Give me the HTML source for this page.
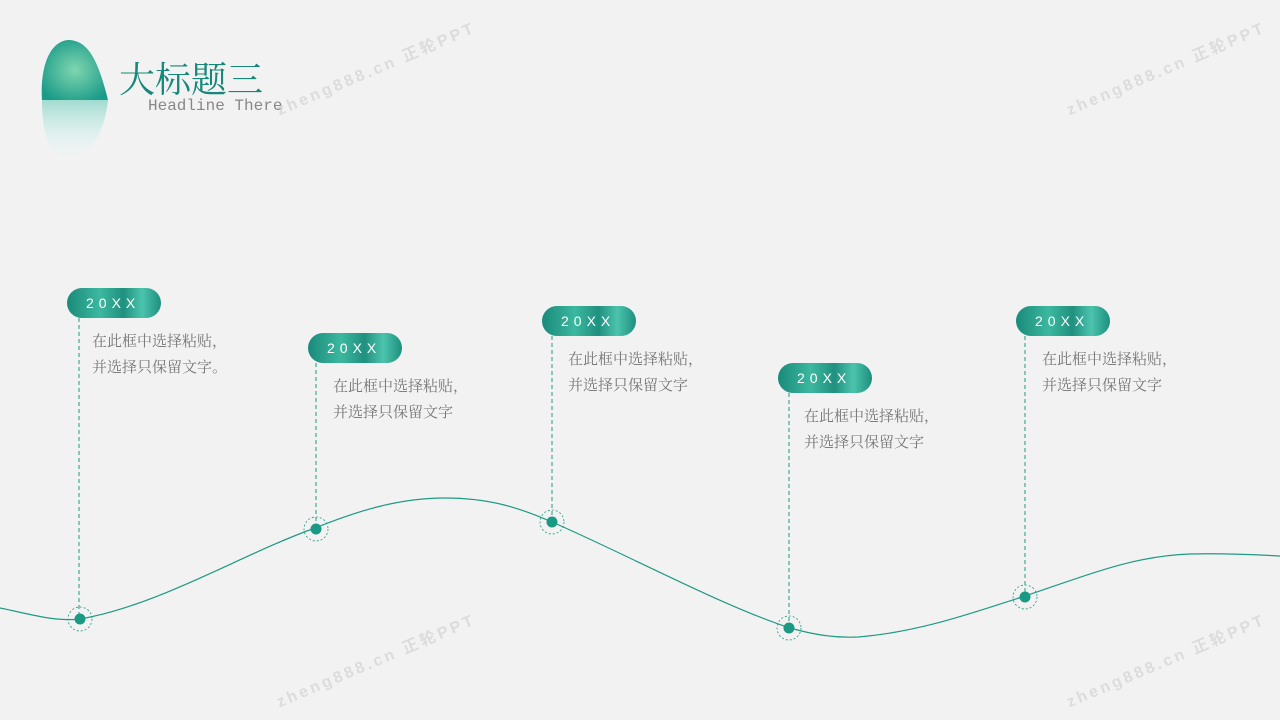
<!DOCTYPE html><html><head><meta charset="utf-8"><style>
body{margin:0;width:1280px;height:720px;background:#f2f2f2;position:relative;overflow:hidden;font-family:"Liberation Sans","Noto Sans CJK SC",sans-serif}
.pill{position:absolute;width:94px;height:30px;border-radius:15px;background:linear-gradient(90deg,#1a8a7a,#3cb8a0 35%,#20907f 60%,#4cc4ad 80%,#1d8f7e);color:#fff;font-size:14px;letter-spacing:5px;line-height:30px;text-indent:19px}
.t{position:absolute;color:#777;font-size:15px;line-height:26px;font-family:"Liberation Serif","Noto Serif CJK SC",serif}
.wm{position:absolute;color:#dcdcdc;font-size:16px;font-weight:bold;letter-spacing:3px;transform:rotate(-23deg);transform-origin:left top;white-space:nowrap}
</style></head><body>
<svg width="1280" height="720" style="position:absolute;left:0;top:0">
<defs><radialGradient id="r" cx=".5" cy=".5" r=".6"><stop offset="0" stop-color="#7fd6b0"/><stop offset="1" stop-color="#1a9a88"/></radialGradient>
<linearGradient id="f" x1="0" y1="0" x2="0" y2="1"><stop offset="0" stop-color="#7ed0c0" stop-opacity=".7"/><stop offset="1" stop-color="#dff" stop-opacity="0"/></linearGradient></defs>
<path d="M42,100 C40,70 48,42 68,40 C88,40 98,60 108,100 Z" fill="url(#r)"/>
<path d="M42,100 L108,100 C105,130 90,160 68,160 C48,158 42,130 42,100 Z" fill="url(#f)"/>
<path d="M0,608 C30,614 55,622 80,619 C160,605 240,555 315,528 C360,510 400,498 445,498 C490,498 520,508 552,522 C630,556 720,605 790,628 C815,635 835,638 858,637 C920,632 975,612 1025,596 C1080,578 1130,556 1190,554 C1230,553 1260,555 1280,556" fill="none" stroke="#1f9a85" stroke-width="1.2"/>
<g stroke="#1f9a85" stroke-width="1" stroke-dasharray="4,3" fill="none">
<line x1="79" y1="318" x2="79" y2="619"/><line x1="316" y1="363" x2="316" y2="528"/>
<line x1="552" y1="336" x2="552" y2="522"/><line x1="789" y1="393" x2="789" y2="628"/>
<line x1="1025" y1="336" x2="1025" y2="596"/>
<g stroke-width=".8" stroke-dasharray="2,2"><circle cx="80" cy="619" r="12"/><circle cx="316" cy="529" r="12"/><circle cx="552" cy="522" r="12"/><circle cx="789" cy="628" r="12"/><circle cx="1025" cy="597" r="12"/></g></g>
<g fill="#1a9a85"><circle cx="80" cy="619" r="5.5"/><circle cx="316" cy="529" r="5.5"/><circle cx="552" cy="522" r="5.5"/><circle cx="789" cy="628" r="5.5"/><circle cx="1025" cy="597" r="5.5"/></g>
</svg>
<div style="position:absolute;left:119px;top:52px;font-size:36px;color:#17877a;font-family:'Liberation Serif','Noto Serif CJK SC',serif">大标题三</div>
<div style="position:absolute;left:148px;top:97px;font-size:16px;color:#888;font-family:'Liberation Mono',monospace">Headline There</div>
<div class="pill" style="left:67px;top:288px">20XX</div>
<div class="pill" style="left:308px;top:333px">20XX</div>
<div class="pill" style="left:542px;top:306px">20XX</div>
<div class="pill" style="left:778px;top:363px">20XX</div>
<div class="pill" style="left:1016px;top:306px">20XX</div>
<div class="t" style="left:92px;top:329px">在此框中选择粘贴，<br>并选择只保留文字。</div>
<div class="t" style="left:333px;top:374px">在此框中选择粘贴，<br>并选择只保留文字</div>
<div class="t" style="left:568px;top:347px">在此框中选择粘贴，<br>并选择只保留文字</div>
<div class="t" style="left:804px;top:404px">在此框中选择粘贴，<br>并选择只保留文字</div>
<div class="t" style="left:1042px;top:347px">在此框中选择粘贴，<br>并选择只保留文字</div>
<div class="wm" style="left:272px;top:98px">zheng888.cn 正轮PPT</div>
<div class="wm" style="left:1062px;top:98px">zheng888.cn 正轮PPT</div>
<div class="wm" style="left:272px;top:690px">zheng888.cn 正轮PPT</div>
<div class="wm" style="left:1062px;top:690px">zheng888.cn 正轮PPT</div>
</body></html>
